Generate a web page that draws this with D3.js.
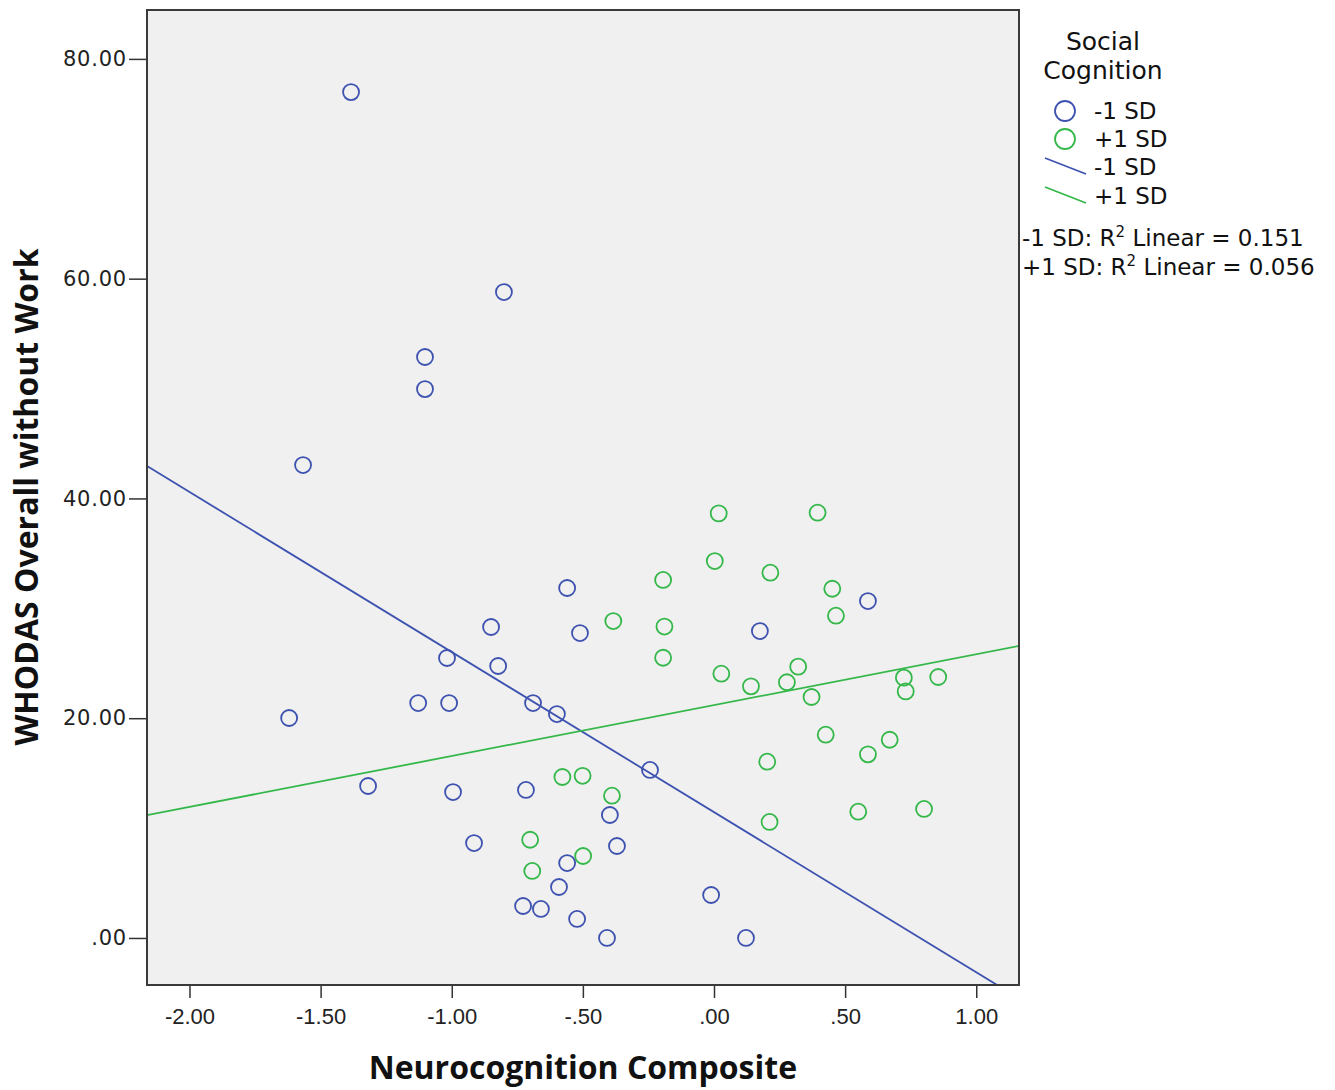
<!DOCTYPE html>
<html>
<head>
<meta charset="utf-8">
<script src="https://cdn.jsdelivr.net/npm/d3@7"></script>
<style>
  body { margin: 0; background: #fff; }
  svg { display: block; }
</style>
</head>
<body>
<svg id="chart"></svg>
<script>
// values
const groups = ["-1 SD", "+1 SD"];
const groupColors = ["#3e52b0", "#35b84a"];

const lowX = [-1.384, -0.801, -1.102, -1.102, -1.567, -1.620, -1.319, -0.560, -0.511, -0.850,
  -1.018, -0.823, -1.128, -1.010, -0.690, -0.599, -0.995, -0.717, -0.915, -0.244,
  -0.397, -0.370, -0.560, -0.591, -0.728, -0.660, -0.522, -0.408, -0.011, 0.122,
  0.175, 0.587];
const lowY = [76.98, 58.78, 52.87, 49.95, 43.04, 20.02, 13.83, 31.85, 27.75, 28.30,
  25.48, 24.75, 21.38, 21.38, 21.38, 20.38, 13.28, 13.47, 8.64, 15.29,
  11.19, 8.37, 6.82, 4.64, 2.91, 2.64, 1.73, 0.00, 3.91, 0.00,
  27.93, 30.66];

const highX = [0.018, 0.395, 0.003, 0.215, -0.194, 0.451, 0.465, -0.384, -0.189, -0.194,
  0.028, 0.321, 0.278, 0.141, 0.372, 0.724, 0.731, 0.855, 0.426, 0.670,
  0.587, 0.203, 0.550, 0.801, 0.212, -0.578, -0.501, -0.389, -0.701, -0.499,
  -0.693];
const highY = [38.64, 38.70, 34.30, 33.24, 32.58, 31.78, 29.33, 28.84, 28.34, 25.50,
  24.05, 24.69, 23.27, 22.90, 21.93, 23.69, 22.44, 23.75, 18.50, 18.04,
  16.71, 16.04, 11.49, 11.74, 10.56, 14.65, 14.76, 12.95, 8.94, 7.46,
  6.10];

// linear fit lines per group
const fitSlope = [-14.57, 4.63];
const fitIntercept = [11.45, 21.19];
const rSquared = ["0.151", "0.056"];

const xTicks = [-2, -1.5, -1, -0.5, 0, 0.5, 1];
const yTicks = [0, 20, 40, 60, 80];

const width = 1335, height = 1090;
const margin = { top: 10, right: 316, bottom: 105, left: 147 };
const innerW = width - margin.left - margin.right;
const innerH = height - margin.top - margin.bottom;

const svg = d3.select("#chart")
  .attr("width", width)
  .attr("height", height);

const x = d3.scaleLinear().domain([-2.162, 1.163]).range([0, innerW]);
const y = d3.scaleLinear().domain([-4.28, 84.45]).range([innerH, 0]);

// SPSS style numbers: ".00", "-.50", "80.00"
const fmt = v => d3.format(".2f")(v).replace("−", "-").replace(/^(-?)0\./, "$1.");

const g = svg.append("g")
  .attr("transform", `translate(${margin.left},${margin.top})`);

g.append("rect")
  .attr("width", innerW)
  .attr("height", innerH)
  .attr("fill", "#f0f0f0");

g.append("clipPath").attr("id", "plotclip")
  .append("rect").attr("width", innerW).attr("height", innerH);

// fit lines
const plot = g.append("g").attr("clip-path", "url(#plotclip)");
groups.forEach((name, i) => {
  const xs = x.domain();
  plot.append("line")
    .attr("x1", x(xs[0]))
    .attr("y1", y(fitIntercept[i] + fitSlope[i] * xs[0]))
    .attr("x2", x(xs[1]))
    .attr("y2", y(fitIntercept[i] + fitSlope[i] * xs[1]))
    .attr("stroke", groupColors[i])
    .attr("stroke-width", 1.8);
});

// points
const series = [d3.zip(lowX, lowY), d3.zip(highX, highY)];
series.forEach((pts, i) => {
  plot.selectAll(null)
    .data(pts)
    .enter()
    .append("circle")
    .attr("cx", d => x(d[0]))
    .attr("cy", d => y(d[1]))
    .attr("r", 8)
    .attr("fill", "none")
    .attr("stroke", groupColors[i])
    .attr("stroke-width", 1.8);
});

// axes
const xAxis = g.append("g")
  .attr("transform", `translate(0,${innerH})`)
  .call(d3.axisBottom(x).tickValues(xTicks).tickFormat(fmt).tickSize(13).tickSizeOuter(0));
xAxis.select(".domain").remove();
xAxis.selectAll(".tick line").attr("stroke", "#333").attr("stroke-width", 1.5);
xAxis.selectAll(".tick text")
  .attr("dy", "0.71em")
  .attr("y", 23)
  .style("font-family", "'Liberation Sans', Arial, sans-serif")
  .style("font-size", "22px")
  .attr("fill", "#222");

const yAxis = g.append("g")
  .call(d3.axisLeft(y).tickValues(yTicks).tickFormat(fmt).tickSize(18).tickSizeOuter(0));
yAxis.select(".domain").remove();
yAxis.selectAll(".tick line").attr("stroke", "#333").attr("stroke-width", 1.5);
yAxis.selectAll(".tick text")
  .attr("x", -20)
  .style("font-family", "'DejaVu Sans', Verdana, sans-serif")
  .style("font-size", "21px")
  .style("letter-spacing", "0.8px")
  .attr("fill", "#222");

// frame
g.append("rect")
  .attr("width", innerW)
  .attr("height", innerH)
  .attr("fill", "none")
  .attr("stroke", "#3a3a3a")
  .attr("stroke-width", 2);

// axis titles
svg.append("text")
  .attr("x", margin.left + x(-0.5))
  .attr("y", 1079)
  .attr("text-anchor", "middle")
  .style("font-family", "'Open Sans', sans-serif")
  .style("font-weight", "bold")
  .style("font-size", "32px")
  .attr("fill", "#111")
  .text("Neurocognition Composite");

svg.append("text")
  .attr("transform", `translate(38,497) rotate(-90)`)
  .attr("text-anchor", "middle")
  .style("font-family", "'Open Sans', sans-serif")
  .style("font-weight", "bold")
  .style("font-size", "32px")
  .attr("fill", "#111")
  .text("WHODAS Overall without Work");

// legend
const legend = svg.append("g")
  .style("font-family", "'DejaVu Sans', sans-serif")
  .attr("fill", "#111");

legend.append("text")
  .attr("x", 1103).attr("y", 50)
  .attr("text-anchor", "middle")
  .style("font-size", "25px")
  .text("Social");
legend.append("text")
  .attr("x", 1103).attr("y", 79)
  .attr("text-anchor", "middle")
  .style("font-size", "25px")
  .text("Cognition");

groups.forEach((name, i) => {
  const cy = 111 + i * 28;
  legend.append("circle")
    .attr("cx", 1065).attr("cy", cy).attr("r", 10)
    .attr("fill", "none")
    .attr("stroke", groupColors[i])
    .attr("stroke-width", 1.8);
  legend.append("text")
    .attr("x", 1094).attr("y", cy + 8)
    .style("font-size", "23px")
    .text(name);
});

groups.forEach((name, i) => {
  const ly = 158 + i * 29;
  legend.append("line")
    .attr("x1", 1045).attr("y1", ly)
    .attr("x2", 1086).attr("y2", ly + 16)
    .attr("stroke", groupColors[i])
    .attr("stroke-width", 1.8);
  legend.append("text")
    .attr("x", 1094).attr("y", ly + 17)
    .style("font-size", "23px")
    .text(name);
});

groups.forEach((name, i) => {
  const t = legend.append("text")
    .attr("x", 1022).attr("y", 246 + i * 29)
    .style("font-size", "23px");
  t.append("tspan").text(name + ": R");
  t.append("tspan").attr("dy", -9).style("font-size", "15px").text("2");
  t.append("tspan").attr("dy", 9).text(" Linear = " + rSquared[i]);
});
</script>
</body>
</html>
